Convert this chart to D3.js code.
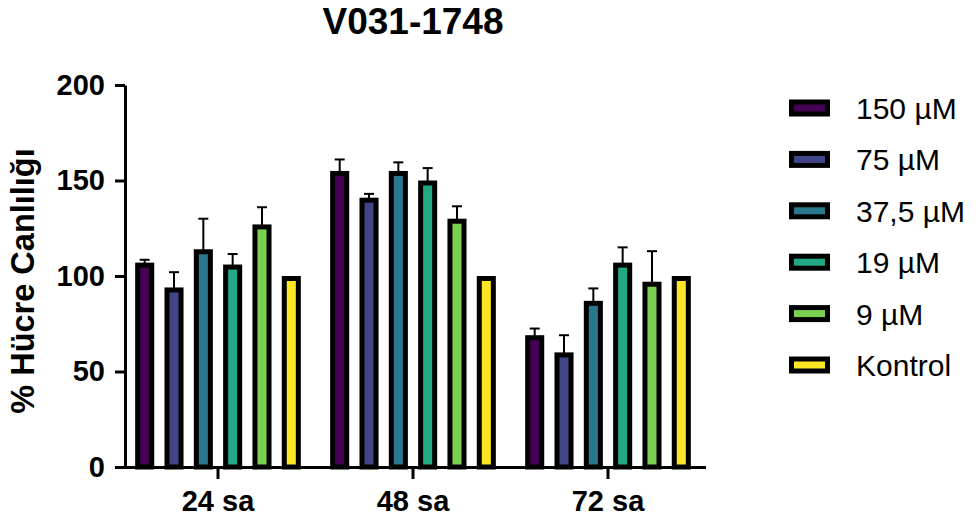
<!DOCTYPE html>
<html lang="tr">
<head>
<meta charset="UTF-8" />
<title>V031-1748</title>
<script src="https://cdn.jsdelivr.net/npm/d3@7"></script>
<style>
  body { margin: 0; background: #fff; }
  svg { display: block; font-family: "Liberation Sans", Arial, sans-serif; }
</style>
</head>
<body>
<svg id="chart" width="976" height="524"></svg>
<script>
  // groups (time points) and doses
  const groups = ["24 sa", "48 sa", "72 sa"];
  const series = ["150 µM", "75 µM", "37,5 µM", "19 µM", "9 µM", "Kontrol"];
  const colors = ["#440154", "#414487", "#2a788e", "#22a884", "#7ad151", "#fde725"];
  const yTicks = [0, 50, 100, 150, 200];

  // mean values per dose, one entry per time point
  const v150 = [107, 155, 69];
  const v75 = [94, 141, 60];
  const v37 = [114, 155, 87];
  const v19 = [106, 150, 107];
  const v9 = [127, 130, 97];
  const vKontrol = [100, 100, 100];

  // upper error (SD)
  const e150 = [1.5, 6, 3.5];
  const e75 = [8, 2, 9];
  const e37 = [16, 4.5, 6.5];
  const e19 = [5.5, 6.5, 8];
  const e9 = [9, 6.5, 16];
  const eKontrol = [0, 0, 0];

  const means = [v150, v75, v37, v19, v9, vKontrol];
  const errs = [e150, e75, e37, e19, e9, eKontrol];

  const svg = d3.select("#chart");

  const x0 = d3.scaleBand().domain(groups).range([120.5, 705.5]);
  const x1 = d3.scaleBand().domain(series).range([0, x0.bandwidth()])
      .paddingInner(0.35).paddingOuter(0.5);
  const y = d3.scaleLinear().domain([0, 200]).range([467, 85]);
  const color = d3.scaleOrdinal().domain(series).range(colors);

  // flat table for the bars
  const rows = [];
  groups.forEach((g, gi) => {
    series.forEach((s, si) => {
      rows.push({ group: g, key: s, value: means[si][gi], err: errs[si][gi] });
    });
  });

  const bw = 5; // border width of bars
  const bars = svg.append("g");

  // error bars (upper only) drawn first so the bar border covers the stem
  const eb = bars.selectAll(".err").data(rows.filter(d => d.err > 0)).enter().append("g")
      .attr("transform", d => `translate(${x0(d.group) + x1(d.key) + x1.bandwidth() / 2},0)`)
      .attr("stroke", "#000").attr("stroke-width", 2);
  eb.append("line").attr("x1", 0).attr("x2", 0)
      .attr("y1", d => y(d.value) + 2).attr("y2", d => y(d.value + d.err));
  eb.append("line").attr("x1", -5).attr("x2", 5)
      .attr("y1", d => y(d.value + d.err)).attr("y2", d => y(d.value + d.err));

  bars.selectAll("rect").data(rows).enter().append("rect")
      .attr("x", d => x0(d.group) + x1(d.key) + bw / 2)
      .attr("width", x1.bandwidth() - bw)
      .attr("y", d => y(d.value) + bw / 2)
      .attr("height", d => y(0) - y(d.value) - bw / 2)
      .attr("fill", d => color(d.key))
      .attr("stroke", "#000")
      .attr("stroke-width", bw);

  // y axis
  const yAxis = svg.append("g")
      .attr("transform", "translate(125,0)")
      .call(d3.axisLeft(y).tickValues(yTicks).tickSize(10).tickSizeOuter(0).tickPadding(10));
  yAxis.select(".domain").attr("stroke-width", 3);
  yAxis.selectAll(".tick line").attr("stroke-width", 3);
  yAxis.selectAll(".tick text")
      .attr("font-size", 29).attr("font-weight", "bold")
      .attr("font-family", "Liberation Sans, Arial, sans-serif").attr("fill", "#000");

  // x axis
  const xAxis = svg.append("g")
      .attr("transform", "translate(0,467)")
      .call(d3.axisBottom(x0).tickSize(12).tickSizeOuter(0).tickPadding(11));
  xAxis.select(".domain").attr("stroke-width", 3);
  xAxis.selectAll(".tick line").attr("stroke-width", 3);
  xAxis.selectAll(".tick text")
      .attr("font-size", 29).attr("font-weight", "bold")
      .attr("font-family", "Liberation Sans, Arial, sans-serif").attr("fill", "#000");

  // title
  svg.append("text")
      .attr("x", 413).attr("y", 34)
      .attr("text-anchor", "middle")
      .attr("font-size", 37).attr("font-weight", "bold")
      .text("V031-1748");

  // y label
  svg.append("text")
      .attr("transform", "translate(34,281) rotate(-90)")
      .attr("text-anchor", "middle")
      .attr("font-size", 32.5).attr("font-weight", "bold")
      .text("% Hücre Canlılığı");

  // legend
  const ly = d3.scalePoint().domain(series).range([108, 365]);
  const leg = svg.append("g").selectAll("g").data(series).enter().append("g")
      .attr("transform", d => `translate(789,${ly(d)})`);
  leg.append("rect")
      .attr("x", 2.5).attr("y", -6)
      .attr("width", 36).attr("height", 12)
      .attr("fill", d => color(d))
      .attr("stroke", "#000").attr("stroke-width", 5);
  leg.append("text")
      .attr("x", 67).attr("y", 11)
      .attr("font-size", 30)
      .text(d => d);
</script>
</body>
</html>
